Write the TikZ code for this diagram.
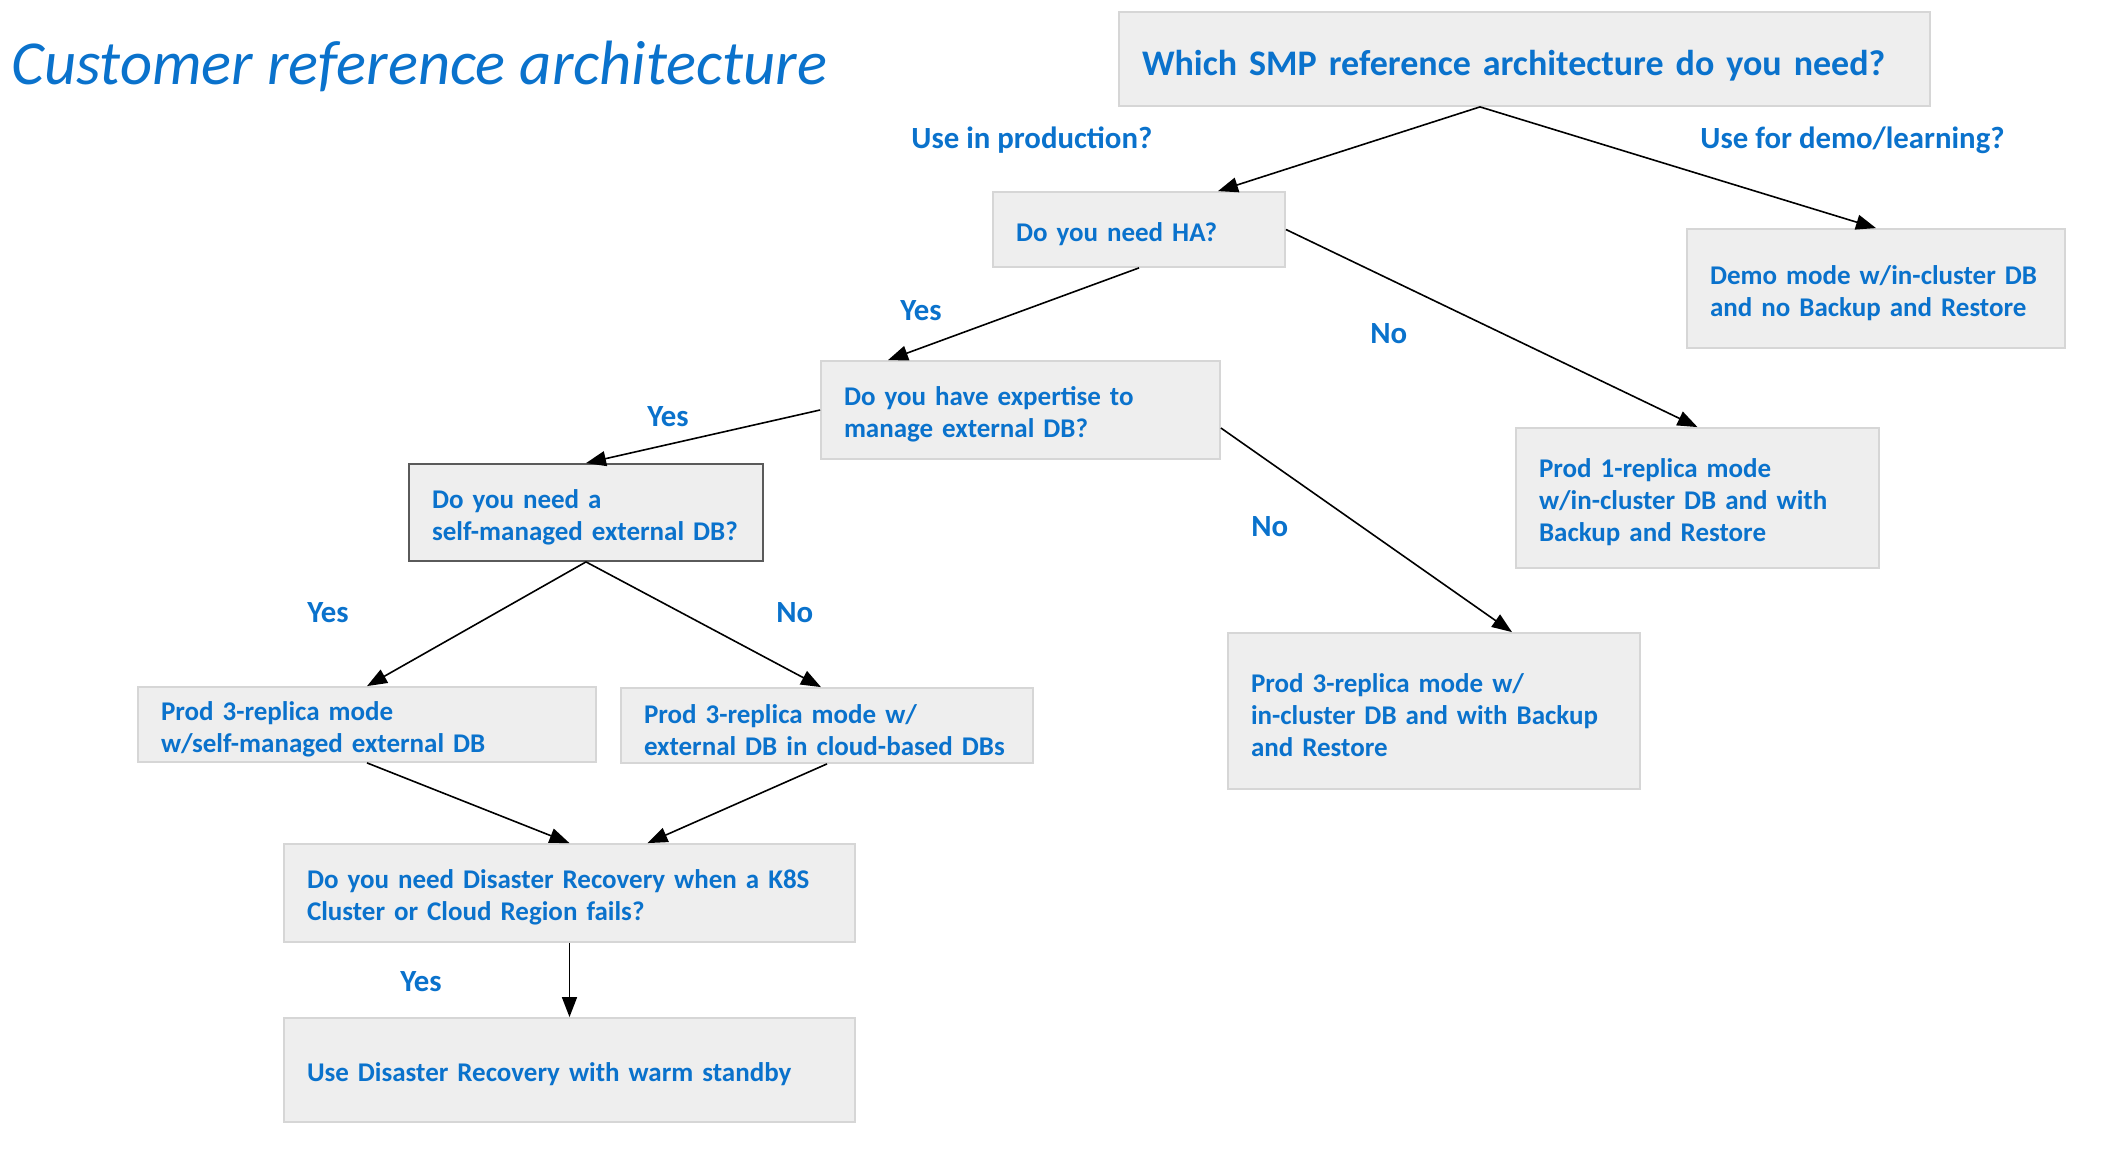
\documentclass[tikz,border=0pt]{standalone}
\usepackage{fontspec}
\setmainfont{Carlito}
\usetikzlibrary{arrows.meta}
\definecolor{tblue}{RGB}{10,114,204}
\definecolor{boxfill}{RGB}{238,238,238}
\definecolor{boxline}{RGB}{214,214,214}
\definecolor{darkline}{RGB}{90,90,90}
\newcommand\bxstrut{\rule{0pt}{14pt}}
\begin{document}
\begin{tikzpicture}[x=0.5pt,y=-0.5pt,
  box/.style={draw=boxline, line width=0.9pt, fill=boxfill, rectangle, align=left,
    inner xsep=11.5pt, inner ysep=0pt, text=tblue, font=\fontsize{13.5}{16}\selectfont\bfseries},
  lbl/.style={anchor=west, text=tblue, inner sep=0pt, font=\fontsize{15.4}{18}\selectfont\bfseries},
  arr/.style={draw=black, line width=0.8pt, -{Triangle[length=10pt,width=7.5pt]}}]
\useasboundingbox (0,0) rectangle (2104,1170);

\node[anchor=west, text=tblue, inner sep=0pt, font=\fontsize{31.3}{35}\selectfont\itshape] (title) at (11,66) {Customer reference architecture};

\node[box, minimum width=405.5pt, minimum height=47pt, text width=382.5pt, font=\fontsize{18}{22}\selectfont\bfseries] (top) at (1524.5,59) {\rule{0pt}{19pt}Which SMP reference architecture do you need?};
\node[box, minimum width=146pt, minimum height=37.5pt, text width=123pt] (ha) at (1139,229.5) {\bxstrut Do you need HA?};
\node[box, minimum width=189pt, minimum height=59.5pt, text width=166pt] (demo) at (1876,288.5) {\bxstrut Demo mode w/in-cluster DB\\and no Backup and Restore};
\node[box, minimum width=199.5pt, minimum height=49pt, text width=176.5pt] (exp) at (1020.5,410) {\bxstrut Do you have expertise to\\manage external DB?};
\node[box, minimum width=181.5pt, minimum height=70pt, text width=158.5pt] (prodone) at (1697.5,498) {\bxstrut Prod 1-replica mode\\w/in-cluster DB and with\\Backup and Restore};
\node[box, draw=darkline, minimum width=177pt, minimum height=48.5pt, text width=154pt] (self) at (586,512.5) {\bxstrut Do you need a\\self-managed external DB?};
\node[box, minimum width=229pt, minimum height=37.5pt, text width=206pt] (pself) at (367,724.5) {\bxstrut Prod 3-replica mode\\w/self-managed external DB};
\node[box, minimum width=206pt, minimum height=37.5pt, text width=183pt] (pcloud) at (827,725.5) {\bxstrut Prod 3-replica mode w/\\external DB in cloud-based DBs};
\node[box, minimum width=206pt, minimum height=78pt, text width=183pt] (pincl) at (1434,711) {\bxstrut Prod 3-replica mode w/\\in-cluster DB and with Backup\\and Restore};
\node[box, minimum width=285.5pt, minimum height=49pt, text width=262.5pt] (dr) at (569.5,893) {\bxstrut Do you need Disaster Recovery when a K8S\\Cluster or Cloud Region fails?};
\node[box, minimum width=285.5pt, minimum height=52pt, text width=262.5pt] (usedr) at (569.5,1070) {\bxstrut Use Disaster Recovery with warm standby};

\node[lbl] (l1) at (911,140) {Use in production?};
\node[lbl] (l2) at (1700,140) {Use for demo/learning?};
\node[lbl] (l3) at (900,311) {Yes};
\node[lbl] (l4) at (1370,334) {No};
\node[lbl] (l5) at (647,417) {Yes};
\node[lbl] (l6) at (1251,527) {No};
\node[lbl] (l7) at (307,613) {Yes};
\node[lbl] (l8) at (776,613) {No};
\node[lbl] (l9) at (400,982) {Yes};

\draw[arr] ([xshift=-22.25pt]top.south) -- ([xshift=39.5pt]ha.north);
\draw[arr] ([xshift=-22.25pt]top.south) -- (demo.north);
\draw[arr] (ha.south) -- ([xshift=-66.25pt]exp.north);
\draw[arr] (ha.east) -- (prodone.north);
\draw[arr] (exp.west) -- (self.north);
\draw[arr] ([yshift=-9pt]exp.east) -- ([xshift=39pt]pincl.north);
\draw[arr] (self.south) -- (pself.north);
\draw[arr] (self.south) -- ([xshift=-3pt]pcloud.north);
\draw[arr] (pself.south) -- (dr.north);
\draw[arr] (pcloud.south) -- ([xshift=39pt]dr.north);
\draw[arr] (dr.south) -- (usedr.north);
\end{tikzpicture}
\end{document}
